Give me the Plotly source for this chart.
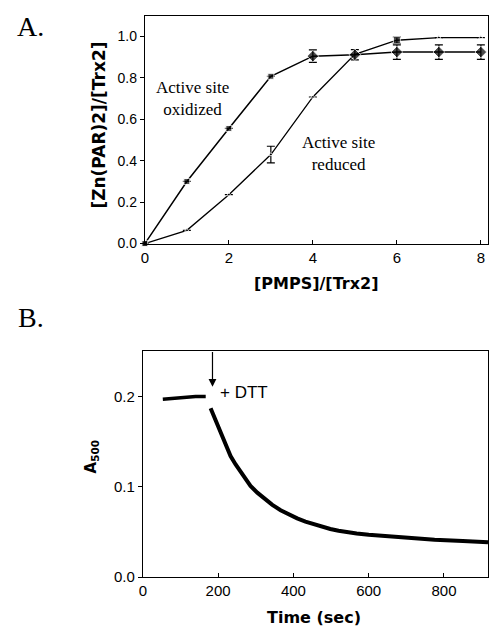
import plotly.graph_objects as go

# ---------------- Panel A data ----------------
pmps_ratio = [0, 1, 2, 3, 4, 5, 6, 7, 8]
oxidized = [0.0, 0.30, 0.556, 0.808, 0.905, 0.912, 0.925, 0.925, 0.925]
oxidized_err = [0, 0, 0, 0, 0.03, 0.025, 0.035, 0.035, 0.035]
reduced = [0.0, 0.064, 0.236, 0.43, 0.708, 0.914, 0.982, 0.995, 0.995]
reduced_err = [0, 0, 0, 0.04, 0, 0, 0.015, 0, 0]

# ---------------- Panel B data ----------------
time_pre = [53, 80, 110, 140, 167]
a500_pre = [0.197, 0.198, 0.199, 0.200, 0.200]
time_post = [180, 190, 198, 207, 216, 225, 233, 246, 260, 273, 286, 304, 322,
             344, 366, 388, 410, 432, 454, 476, 498, 520, 542, 568,
             600, 650, 700, 775, 850, 917]
a500_post = [0.187, 0.177, 0.167, 0.158, 0.149, 0.141, 0.134, 0.125, 0.116,
             0.108, 0.101, 0.0935, 0.087, 0.080, 0.0741, 0.0692, 0.065,
             0.0615, 0.0585, 0.0557, 0.0533, 0.0514, 0.0497, 0.0484,
             0.0470, 0.0453, 0.0436, 0.0415, 0.0400, 0.0385]
dtt_time = 185

xticks_a = [0, 2, 4, 6, 8]
yticks_a = [0.0, 0.2, 0.4, 0.6, 0.8, 1.0]
xticks_b = [0, 200, 400, 600, 800]
yticks_b = [0.0, 0.1, 0.2]

W, H = 490, 635
SANS = "Liberation Sans, Arial, sans-serif"
BOLD = "DejaVu Sans, sans-serif"
SERIF = "Liberation Serif, Times New Roman, serif"

ox_symbols = ["square", "square", "square", "square", "diamond", "diamond",
              "diamond", "diamond", "diamond"]
ox_sizes = [6, 6, 6, 6, 9, 9, 9, 9, 9]
red_symbols = ["square", "triangle-up", "triangle-up", "triangle-up",
               "triangle-up", "triangle-up", "square", "triangle-up", "triangle-up"]
red_sizes = [5, 4, 4, 4, 4, 4, 7, 4, 4]

fig = go.Figure()

fig.add_trace(go.Scatter(
    x=pmps_ratio, y=reduced, mode="lines+markers",
    line=dict(color="black", width=1.3),
    marker=dict(color="black", symbol=red_symbols, size=red_sizes),
    error_y=dict(type="data", array=reduced_err, color="black",
                 thickness=1.2, width=4),
    xaxis="x", yaxis="y", cliponaxis=False, showlegend=False))

fig.add_trace(go.Scatter(
    x=pmps_ratio, y=oxidized, mode="lines+markers",
    line=dict(color="black", width=1.5),
    marker=dict(color="black", symbol=ox_symbols, size=ox_sizes),
    error_y=dict(type="data", array=oxidized_err, color="black",
                 thickness=1.2, width=4),
    xaxis="x", yaxis="y", cliponaxis=False, showlegend=False))

fig.add_trace(go.Scatter(
    x=time_pre, y=a500_pre, mode="lines",
    line=dict(color="black", width=3.5),
    xaxis="x2", yaxis="y2", showlegend=False))

fig.add_trace(go.Scatter(
    x=time_post, y=a500_post, mode="lines",
    line=dict(color="black", width=4),
    xaxis="x2", yaxis="y2", showlegend=False))

axis_common = dict(showline=True, linecolor="black", linewidth=1, mirror=True,
                   showgrid=False, zeroline=False, ticklen=4, tickwidth=1,
                   tickcolor="black")

fig.update_layout(
    width=W, height=H,
    margin=dict(l=0, r=0, t=0, b=0),
    paper_bgcolor="white", plot_bgcolor="white",
    xaxis=dict(domain=[142 / W, 488 / W], range=[0, 8.17], anchor="y",
               tickvals=xticks_a, ticks="inside",
               tickfont=dict(family=SANS, size=15, color="black"),
               **axis_common),
    yaxis=dict(domain=[1 - 246.7 / H, 1 - 16 / H], range=[0, 1.1], anchor="x",
               tickvals=yticks_a, tickformat=".1f", ticks="outside",
               tickfont=dict(family=SANS, size=14, color="black"),
               **axis_common),
    xaxis2=dict(domain=[140 / W, 488 / W], range=[0, 917], anchor="y2",
                tickvals=xticks_b, ticks="inside",
                tickfont=dict(family=SANS, size=15, color="black"),
                **axis_common),
    yaxis2=dict(domain=[1 - 584.5 / H, 1 - 355 / H], range=[0, 0.2508],
                anchor="x2", tickvals=yticks_b, tickformat=".1f",
                ticks="outside",
                tickfont=dict(family=SANS, size=15, color="black"),
                **axis_common),
)

ann = []
# panel letters
ann.append(dict(text="A.", x=27 / W, y=1 - 27 / H, xref="paper", yref="paper",
                showarrow=False, font=dict(family=SERIF, size=28, color="black"),
                xanchor="center", yanchor="middle"))
ann.append(dict(text="B.", x=27 / W, y=1 - 322 / H, xref="paper", yref="paper",
                showarrow=False, font=dict(family=SERIF, size=28, color="black"),
                xanchor="center", yanchor="middle"))
# axis titles
ann.append(dict(text="<b>[PMPS]/[Trx2]</b>", x=315 / W, y=1 - 287 / H,
                xref="paper", yref="paper", showarrow=False,
                font=dict(family=BOLD, size=16, color="black"),
                xanchor="center", yanchor="middle"))
ann.append(dict(text="<b>[Zn(PAR)2]/[Trx2]</b>", x=96 / W, y=1 - 127 / H,
                xref="paper", yref="paper", showarrow=False, textangle=-90,
                font=dict(family=BOLD, size=17, color="black"),
                xanchor="center", yanchor="middle"))
ann.append(dict(text="<b>Time (sec)</b>", x=313 / W, y=1 - 625 / H,
                xref="paper", yref="paper", showarrow=False,
                font=dict(family=BOLD, size=16, color="black"),
                xanchor="center", yanchor="middle"))
ann.append(dict(text="<b>A<sub>500</sub></b>", x=88 / W, y=1 - 462 / H,
                xref="paper", yref="paper", showarrow=False, textangle=-90,
                font=dict(family=BOLD, size=15, color="black"),
                xanchor="center", yanchor="middle"))
# in-plot labels
ann.append(dict(text="Active site<br>oxidized", x=1.13, y=0.70, xref="x", yref="y",
                showarrow=False, font=dict(family=SERIF, size=17, color="black"),
                xanchor="center", yanchor="middle"))
ann.append(dict(text="Active site<br>reduced", x=4.6, y=0.437, xref="x", yref="y",
                showarrow=False, font=dict(family=SERIF, size=17, color="black"),
                xanchor="center", yanchor="middle"))
ann.append(dict(text="+ DTT", x=270, y=0.204, xref="x2", yref="y2",
                showarrow=False, font=dict(family=SANS, size=17, color="black"),
                xanchor="center", yanchor="middle"))
# DTT arrow
ann.append(dict(text="", x=dtt_time, y=0.2107, xref="x2", yref="y2",
                ax=dtt_time, ay=0.2508, axref="x2", ayref="y2",
                showarrow=True, arrowhead=2, arrowsize=1.3, arrowwidth=1.2,
                arrowcolor="black"))

fig.update_layout(annotations=ann)

fig.write_html("out.html")
